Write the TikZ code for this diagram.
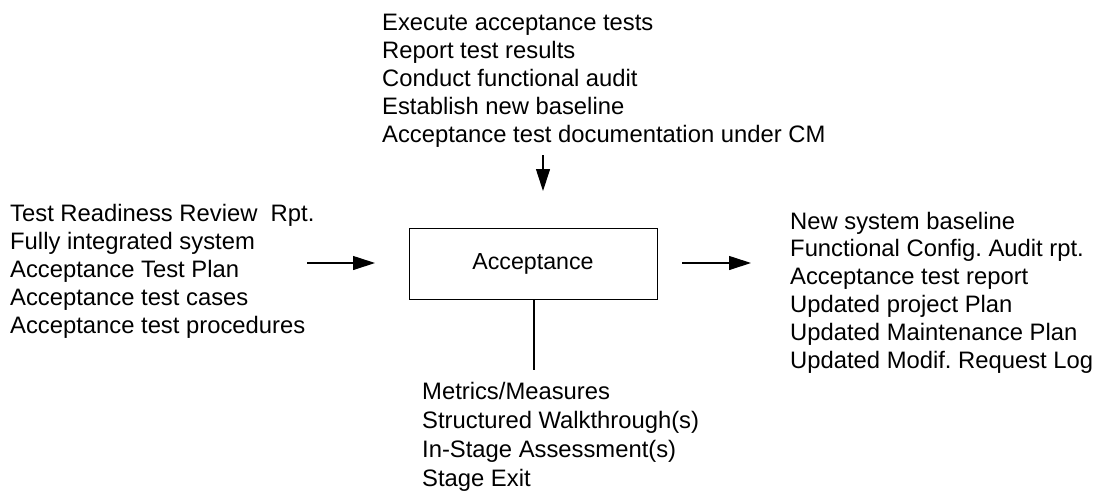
\documentclass[tikz,border=0pt]{standalone}
\usepackage{fontspec}
\setmainfont{Liberation Sans}
\frenchspacing
\usetikzlibrary{arrows.meta}
\tikzset{
  lbl/.style={anchor=base west, align=left, inner sep=0pt,
    font=\fontsize{23.8}{27.8}\selectfont},
  stage/.style={draw, line width=1pt, minimum width=248pt, minimum height=71pt,
    inner sep=0pt, font=\fontsize{23.2}{28}\selectfont},
  flow/.style={line width=1.1pt, -{Triangle[length=22pt,width=14pt]}},
  link/.style={line width=1.1pt}
}
\begin{document}
\begin{tikzpicture}[x=1pt, y=-1pt]
\useasboundingbox (0,0) rectangle (1102,491);
% central activity box
\node[stage] (acc) at (533,263.5) {Acceptance};
% text blocks (anchored at the baseline of their last line)
\node[lbl] (ctrl) at (382,142) {Execute acceptance tests\\Report test results\\Conduct functional audit\\Establish new baseline\\Acceptance test documentation under CM};
\node[lbl] (inp) at (10,333) {Test Readiness Review\ \ Rpt.\\Fully integrated system\\Acceptance Test Plan\\Acceptance test cases\\Acceptance test procedures};
\node[lbl] (outp) at (790,368) {New system baseline\\Functional Config. Audit rpt.\\Acceptance test report\\Updated project Plan\\Updated Maintenance Plan\\Updated Modif. Request Log};
\node[lbl, font=\fontsize{23.8}{29}\selectfont] (mech) at (422,486) {Metrics/Measures\\Structured Walkthrough(s)\\In-Stage Assessment(s)\\Stage Exit};
% arrow end points
\coordinate (inA) at (307,263);
\coordinate (inB) at (375,263);
\coordinate (outA) at (682,263);
\coordinate (outB) at (751,263);
\coordinate (ctA) at (543,155);
\coordinate (ctB) at (543,191);
\coordinate (meB) at (534,370);
\draw[flow] (inA) -- (inB);
\draw[flow] (outA) -- (outB);
\draw[flow] (ctA) -- (ctB);
\draw[link] (acc.south -| meB) -- (meB);
\end{tikzpicture}
\end{document}
